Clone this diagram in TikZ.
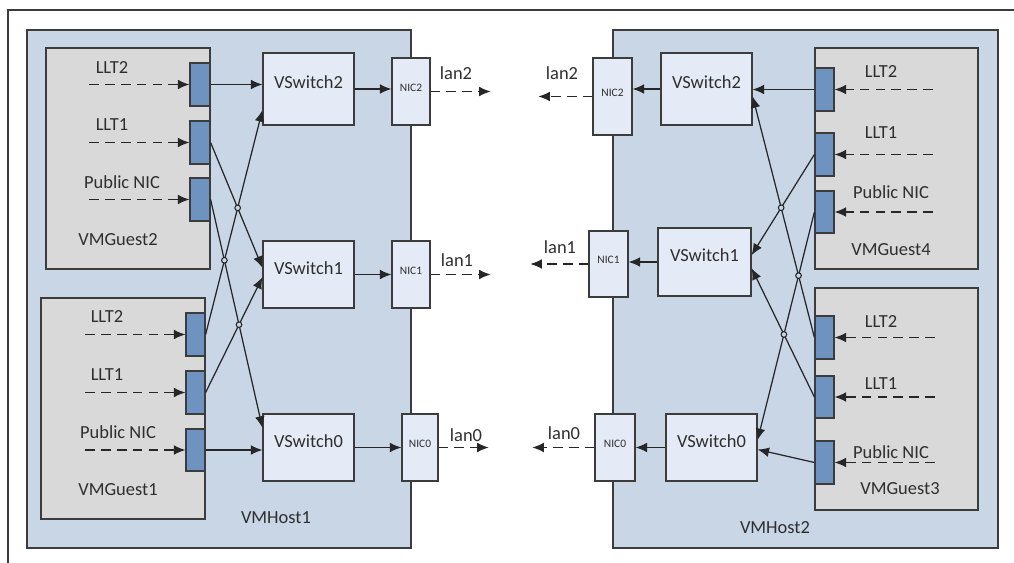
\documentclass[tikz,border=0pt]{standalone}
\usepackage{fontspec}
\setmainfont{Carlito}
\usetikzlibrary{arrows.meta,fit,calc,intersections}

\definecolor{hostfill}{HTML}{C8D6E6}
\definecolor{guestfill}{HTML}{D9D9D9}
\definecolor{swfill}{HTML}{E5EBF6}
\definecolor{portfill}{HTML}{6F93C0}
\definecolor{edgegray}{HTML}{3C3C3C}
\definecolor{txtgray}{HTML}{2E2E2E}

\begin{document}
\begin{tikzpicture}[x=0.02cm,y=-0.02cm,
    font=\fontsize{10.5}{12}\selectfont,text=txtgray,
    box/.style={draw=edgegray,line width=0.7pt,inner sep=0pt},
    hostbox/.style={box,fill=hostfill},
    guestbox/.style={box,fill=guestfill},
    port/.style={box,fill=portfill},
    switch/.style={box,fill=swfill},
    nic/.style={box,fill=swfill,font=\fontsize{6.5}{7}\selectfont},
    lbl/.style={inner sep=0pt},
    arr/.style={-{Latex[length=6.5pt,width=5.5pt]},line width=0.7pt,draw=black!85},
    dasharr/.style={arr,dash pattern=on 5.5pt off 3.5pt},
    hop/.style={draw=black!85,line width=0.6pt,fill=hostfill}]
  \useasboundingbox (0,0) rectangle (1014,563);
  \draw[line width=1.2pt,edgegray] (8,563) -- (8,10) -- (1014,10);

  % hosts and guests
  \node[hostbox,fit={(27,30) (411,548)}] (host1) {};
  \node[hostbox,fit={(613,30) (998,548)}] (host2) {};
  \node[guestbox,fit={(46,48) (210,269)}] (guest2) {};
  \node[guestbox,fit={(41,298) (205,519)}] (guest1) {};
  \node[guestbox,fit={(815,48) (978,269)}] (guest4) {};
  \node[guestbox,fit={(815,288) (978,510)}] (guest3) {};

  % ports
  \node[port,fit={(190,63) (210,106)}] (g2p2) {};
  \node[port,fit={(190,121) (210,164)}] (g2p1) {};
  \node[port,fit={(190,178) (210,221)}] (g2pub) {};
  \node[port,fit={(186,313) (205,356)}] (g1p2) {};
  \node[port,fit={(186,371) (205,414)}] (g1p1) {};
  \node[port,fit={(186,429) (205,471)}] (g1pub) {};
  \node[port,fit={(815,68) (834,111)}] (g4p2) {};
  \node[port,fit={(815,133) (834,176)}] (g4p1) {};
  \node[port,fit={(815,191) (834,233)}] (g4pub) {};
  \node[port,fit={(815,316) (834,359)}] (g3p2) {};
  \node[port,fit={(815,376) (834,418)}] (g3p1) {};
  \node[port,fit={(815,441) (834,484)}] (g3pub) {};

  % switches and nics
  \node[switch,fit={(263,53) (354,125)}] (sw2a) {VSwitch2};
  \node[switch,fit={(263,241) (354,308)}] (sw1a) {VSwitch1};
  \node[switch,fit={(263,414) (354,481)}] (sw0a) {VSwitch0};
  \node[switch,fit={(661,53) (752,125)}] (sw2b) {VSwitch2};
  \node[switch,fit={(658,228) (751,296)}] (sw1b) {VSwitch1};
  \node[switch,fit={(666,414) (757,481)}] (sw0b) {VSwitch0};
  \node[nic,fit={(392,58) (430,125)}] (nic2a) {NIC2};
  \node[nic,fit={(392,241) (430,308)}] (nic1a) {NIC1};
  \node[nic,fit={(402,414) (438,481)}] (nic0a) {NIC0};
  \node[nic,fit={(593,58) (632,135)}] (nic2b) {NIC2};
  \node[nic,fit={(589,231) (628,297)}] (nic1b) {NIC1};
  \node[nic,fit={(595,414) (635,481)}] (nic0b) {NIC0};

  % labels
  \node[lbl] (g2t2) at (112,68) {LLT2};
  \node[lbl] (g2t1) at (112,125) {LLT1};
  \node[lbl] (g2tpub) at (122,182) {Public NIC};
  \node[lbl] (g2name) at (118,240) {VMGuest2};
  \node[lbl] (g1t2) at (107,317) {LLT2};
  \node[lbl] (g1t1) at (107,375) {LLT1};
  \node[lbl] (g1tpub) at (118,432) {Public NIC};
  \node[lbl] (g1name) at (118,490) {VMGuest1};
  \node[lbl] (g4t2) at (881,72) {LLT2};
  \node[lbl] (g4t1) at (881,133) {LLT1};
  \node[lbl] (g4tpub) at (891,192) {Public NIC};
  \node[lbl] (g4name) at (891,250) {VMGuest4};
  \node[lbl] (g3t2) at (881,322) {LLT2};
  \node[lbl] (g3t1) at (881,384) {LLT1};
  \node[lbl] (g3tpub) at (891,452) {Public NIC};
  \node[lbl] (g3name) at (900,489) {VMGuest3};
  \node[lbl] (h1name) at (276,518) {VMHost1};
  \node[lbl] (h2name) at (775,528) {VMHost2};
  \node[lbl] (lan2at) at (456,73) {lan2};
  \node[lbl] (lan1at) at (457,260) {lan1};
  \node[lbl] (lan0at) at (466,435) {lan0};
  \node[lbl] (lan2bt) at (562,73) {lan2};
  \node[lbl] (lan1bt) at (560,247) {lan1};
  \node[lbl] (lan0bt) at (564,433) {lan0};

  % traffic into the guests
  \coordinate (g2i2) at ($(g2p2.west)+(-100,0)$);
  \coordinate (g2i1) at ($(g2p1.west)+(-100,0)$);
  \coordinate (g2ipub) at ($(g2pub.west)+(-100,0)$);
  \coordinate (g1i2) at ($(g1p2.west)+(-100,0)$);
  \coordinate (g1i1) at ($(g1p1.west)+(-100,0)$);
  \coordinate (g1ipub) at ($(g1pub.west)+(-100,0)$);
  \coordinate (g4i2) at ($(g4p2.east)+(98,0)$);
  \coordinate (g4i1) at ($(g4p1.east)+(98,0)$);
  \coordinate (g4ipub) at ($(g4pub.east)+(98,0)$);
  \coordinate (g3i2) at ($(g3p2.east)+(100,0)$);
  \coordinate (g3i1) at ($(g3p1.east)+(100,0)$);
  \coordinate (g3ipub) at ($(g3pub.east)+(100,0)$);
  \draw[dasharr] (g2i2) -- (g2p2);
  \draw[dasharr] (g2i1) -- (g2p1);
  \draw[dasharr] (g2ipub) -- (g2pub);
  \draw[dasharr] (g1i2) -- (g1p2);
  \draw[dasharr] (g1i1) -- (g1p1);
  \draw[dasharr] (g1ipub) -- (g1pub);
  \draw[dasharr] (g4i2) -- (g4p2);
  \draw[dasharr] (g4i1) -- (g4p1);
  \draw[dasharr] (g4ipub) -- (g4pub);
  \draw[dasharr] (g3i2) -- (g3p2);
  \draw[dasharr] (g3i1) -- (g3p1);
  \draw[dasharr] (g3ipub) -- (g3pub);

  % ports to switches
  \draw[arr] (g2p2.east) -- (g2p2.east -| sw2a.west);
  \draw[arr,name path=a2] (g2p1.east) -- ($(sw1a.north west)!0.4!(sw1a.south west)$);
  \draw[arr,name path=a3] (g2pub.east) -- ($(sw0a.north west)!0.21!(sw0a.south west)$);
  \draw[arr,name path=a4] (g1p2.east) -- ($(sw2a.north west)!0.79!(sw2a.south west)$);
  \draw[arr,name path=a5] (g1p1.east) -- ($(sw1a.north west)!0.54!(sw1a.south west)$);
  \draw[arr] (g1pub.east) -- (g1pub.east -| sw0a.west);
  \draw[arr] (g4p2.west) -- (g4p2.west -| sw2b.east);
  \draw[arr,name path=b2] (g4p1.west) -- ($(sw1b.north east)!0.4!(sw1b.south east)$);
  \draw[arr,name path=b3] (g4pub.west) -- ($(sw0b.north east)!0.39!(sw0b.south east)$);
  \draw[arr,name path=b4] (g3p2.west) -- ($(sw2b.north east)!0.6!(sw2b.south east)$);
  \draw[arr,name path=b5] (g3p1.west) -- ($(sw1b.north east)!0.59!(sw1b.south east)$);
  \draw[arr] (g3pub.west) -- ($(sw0b.north east)!0.53!(sw0b.south east)$);

  % line hops
  \path[name intersections={of=a2 and a4,by=x1}];
  \path[name intersections={of=a3 and a4,by=x2}];
  \path[name intersections={of=a3 and a5,by=x3}];
  \path[name intersections={of=b2 and b4,by=x4}];
  \path[name intersections={of=b3 and b4,by=x5}];
  \path[name intersections={of=b3 and b5,by=x6}];
  \foreach \x in {x1,x2,x3,x4,x5,x6}
    \draw[hop] (\x) circle (1.6pt);

  % switches to nics
  \draw[arr] (sw2a.east) -- (sw2a.east -| nic2a.west);
  \draw[arr] (sw1a.east) -- (sw1a.east -| nic1a.west);
  \draw[arr] (sw0a.east) -- (sw0a.east -| nic0a.west);
  \draw[arr] (sw2b.west) -- (sw2b.west -| nic2b.east);
  \draw[arr] (sw1b.west) -- (sw1b.west -| nic1b.east);
  \draw[arr] (sw0b.west) -- (sw0b.west -| nic0b.east);

  % out to the lans
  \coordinate (lan2a) at ($(nic2a.east)+(60,0)$);
  \coordinate (lan1a) at ($(nic1a.east)+(60,0)$);
  \coordinate (lan0a) at ($(nic0a.east)+(50,0)$);
  \coordinate (lan2b) at ($(nic2b.west)+(-54,0)$);
  \coordinate (lan1b) at ($(nic1b.west)+(-58,0)$);
  \coordinate (lan0b) at ($(nic0b.west)+(-62,0)$);
  \draw[dasharr] (nic2a) -- (lan2a);
  \draw[dasharr] (nic1a) -- (lan1a);
  \draw[dasharr] (nic0a) -- (lan0a);
  \draw[dasharr] (nic2b) -- (lan2b);
  \draw[dasharr] (nic1b) -- (lan1b);
  \draw[dasharr] (nic0b) -- (lan0b);
\end{tikzpicture}
\end{document}
